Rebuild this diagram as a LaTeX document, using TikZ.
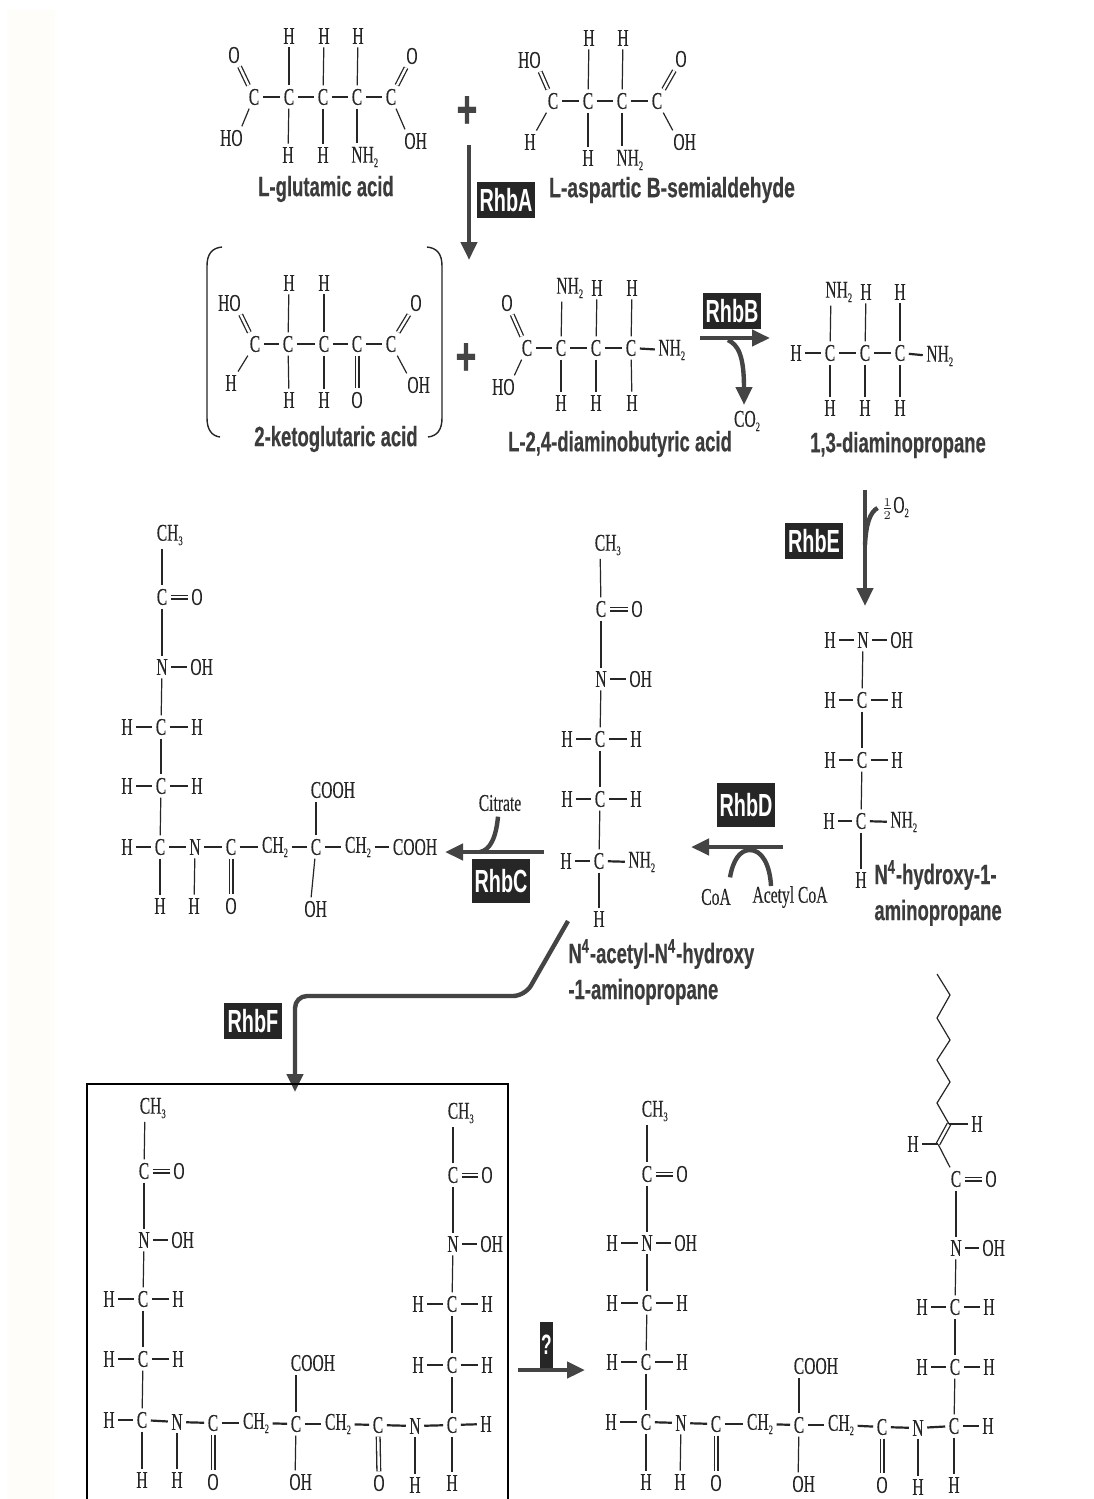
\documentclass[tikz,border=0pt]{standalone}
\usepackage{amsmath}
\usepackage{fontspec}
\usetikzlibrary{arrows.meta, positioning}

\newfontfamily\atomfont{Liberation Serif}[FakeStretch=0.65, FakeBold=0.15]
\newfontfamily\namefont{Liberation Sans}[FakeStretch=0.66, BoldFeatures={FakeBold=0.4}]
\newfontfamily\namewide{Liberation Sans}[FakeStretch=0.69, BoldFeatures={FakeBold=0.4}]
\newfontfamily\enzfont{Liberation Sans}[FakeStretch=0.62]
\newcommand{\lowsub}[1]{\raisebox{-0.4ex}{\fontsize{6.5}{7}\selectfont #1}}
\definecolor{paper}{HTML}{FFFFFF}
\definecolor{peach}{HTML}{FFFDFA}
\definecolor{ink}{HTML}{262626}
\definecolor{flowgrey}{HTML}{444444}

\begin{document}
\begin{tikzpicture}[
    x=0.5pt, y=-0.5pt,
    atom/.style={inner sep=1.6pt, text=ink, font=\atomfont\fontsize{12}{13}\selectfont},
    bond/.style={draw=ink, line width=0.6pt},
    hbond/.style={draw=ink, line width=1.1pt},
    dbond/.style={draw=ink, line width=0.65pt, double=paper, double distance=1.2pt},
    molname/.style={inner sep=0pt, text=ink!90, align=left, font=\namefont\bfseries\fontsize{14}{18}\selectfont},
    enzyme/.style={fill=ink, text=white, inner sep=0pt, minimum width=29pt, minimum height=18pt, font=\enzfont\bfseries\fontsize{16}{16}\selectfont},
    plus/.style={inner sep=0pt, text=flowgrey, font=\namefont\bfseries\fontsize{27}{27}\selectfont},
    flowline/.style={draw=flowgrey, line width=2.2pt},
    flow/.style={flowline, -{Triangle[length=9pt, width=8pt]}},
    >={Stealth[length=5pt]}
]
  \useasboundingbox (0,0) rectangle (1093,1499);
  \fill[paper] (0,0) rectangle (1093,1499);
  \fill[peach] (7,10) rectangle (55,1499);

  % L-glutamic acid
  \foreach \n/\x/\y/\txt in {gc1/254/97/C, gc2/289/97/C, gc3/323/97/C, gc4/357/97/C, gc5/391/97/C,
      gh1/289/36/H, gh2/324/36/H, gh3/358/36/H, go1/234/55/O, go2/412/56/O,
      gho/237/138/\llap{H}O, goh/410/141/O\rlap{H}, gh4/288/155/H, gh5/323/155/H, gn/357/157/N\rlap{H\lowsub{2}}}
    \node[atom] (\n) at (\x,\y) {\txt};
  \foreach \a/\b in {gc2/gh1, gc3/gh2, gc4/gh3, gc2/gh4, gc3/gh5, gc4/gn, gc1/gho, gc5/goh}
    \draw[bond] (\a) -- (\b);
  \foreach \a/\b in {gc1/gc2, gc2/gc3, gc3/gc4, gc4/gc5}
    \draw[hbond] (\a) -- (\b);
  \foreach \a/\b in {gc1/go1, gc5/go2}
    \draw[dbond] (\a) -- (\b);
  \node[molname] (glutamic) at (326,189) {L-glutamic acid};
  \node[plus] (plusa) at (467,112) {+};

  % L-aspartic B-semialdehyde
  \foreach \n/\x/\y/\txt in {ac1/553/101/C, ac2/588/101/C, ac3/622/101/C, ac4/657/101/C,
      ah1/589/38/H, ah2/623/38/H, aho/535/60/\llap{H}O, ao/681/59/O, ah3/530/142/H,
      ah4/588/158/H, an/622/160/N\rlap{H\lowsub{2}}, aoh/679/142/O\rlap{H}}
    \node[atom] (\n) at (\x,\y) {\txt};
  \foreach \a/\b in {ac2/ah1, ac3/ah2, ac2/ah4, ac3/an, ac1/ah3, ac4/aoh}
    \draw[bond] (\a) -- (\b);
  \foreach \a/\b in {ac1/ac2, ac2/ac3, ac3/ac4}
    \draw[hbond] (\a) -- (\b);
  \foreach \a/\b in {ac1/aho, ac4/ao}
    \draw[dbond] (\a) -- (\b);
  \node[molname, font=\namewide\bfseries\fontsize{14}{18}\selectfont] (aspartic) at (672,190) {L-aspartic B-semialdehyde};

  % RhbA
  \node[enzyme] (rhba) at (506,200) {RhbA};
  \coordinate (afrom) at (469,145);
  \coordinate (ato) at (469,260);
  \draw[flow] (afrom) -- (ato);

  % 2-ketoglutaric acid
  \draw[bond, line width=0.7pt] (222,247) .. controls (212,248) and (207,254) .. (207,266) -- (207,418) .. controls (207,430) and (212,436) .. (220,437);
  \draw[bond, line width=0.7pt] (427,247) .. controls (437,248) and (442,254) .. (442,266) -- (442,418) .. controls (442,430) and (437,436) .. (428,437);
  \foreach \n/\x/\y/\txt in {kc1/255/344/C, kc2/288/344/C, kc3/324/344/C, kc4/357/344/C, kc5/391/344/C,
      kh1/289/283/H, kh2/324/283/H, kho/235/303/\llap{H}O, ko1/416/303/O, kh3/231/383/H,
      kh4/289/400/H, kh5/324/400/H, ko2/357/400/O, koh/413/385/O\rlap{H}}
    \node[atom] (\n) at (\x,\y) {\txt};
  \foreach \a/\b in {kc2/kh1, kc3/kh2, kc2/kh4, kc3/kh5, kc1/kh3, kc5/koh}
    \draw[bond] (\a) -- (\b);
  \foreach \a/\b in {kc1/kc2, kc2/kc3, kc3/kc4, kc4/kc5}
    \draw[hbond] (\a) -- (\b);
  \foreach \a/\b in {kc1/kho, kc5/ko1, kc4/ko2}
    \draw[dbond] (\a) -- (\b);
  \node[molname] (keto) at (336,439) {2-ketoglutaric acid};
  \node[plus] (plusb) at (466,359) {+};

  % L-2,4-diaminobutyric acid
  \foreach \n/\x/\y/\txt in {dc1/527/348/C, dc2/561/348/C, dc3/596/348/C, dc4/631/348/C,
      dn2/664/350/N\rlap{H\lowsub{2}}, do/507/303/O, dn1/562/288/N\rlap{H\lowsub{2}}, dh1/597/288/H, dh2/632/288/H,
      dho/509/387/\llap{H}O, dh3/561/403/H, dh4/596/403/H, dh5/632/403/H}
    \node[atom] (\n) at (\x,\y) {\txt};
  \foreach \a/\b in {dc2/dn1, dc3/dh1, dc4/dh2, dc2/dh3, dc3/dh4, dc4/dh5, dc1/dho}
    \draw[bond] (\a) -- (\b);
  \foreach \a/\b in {dc1/dc2, dc2/dc3, dc3/dc4, dc4/dn2}
    \draw[hbond] (\a) -- (\b);
  \draw[dbond] (dc1) -- (do);
  \node[molname] (dab) at (620,444) {L-2,4-diaminobutyric acid};

  % RhbB
  \node[enzyme] (rhbb) at (732,311) {RhbB};
  \node[atom] (co2lab) at (747,421) {CO\lowsub{2}};
  \coordinate (bfrom) at (700,338);
  \coordinate (bto) at (770,338);
  \coordinate (btee) at (728,340);
  \coordinate (btip) at (744,405);
  \draw[flow] (bfrom) -- (bto);
  \draw[flow] (btee) .. controls (738,345) and (744,355) .. (btip);

  % 1,3-diaminopropane
  \foreach \n/\x/\y/\txt in {pc1/830/353/C, pc2/865/353/C, pc3/900/353/C, ph1/796/353/H,
      pn2/932/356/N\rlap{H\lowsub{2}}, pn1/831/292/N\rlap{H\lowsub{2}}, ph2/866/292/H, ph3/900/292/H,
      ph4/830/408/H, ph5/865/408/H, ph6/900/408/H}
    \node[atom] (\n) at (\x,\y) {\txt};
  \foreach \a/\b in {pc1/pn1, pc2/ph2, pc3/ph3, pc1/ph4, pc2/ph5, pc3/ph6}
    \draw[bond] (\a) -- (\b);
  \foreach \a/\b in {ph1/pc1, pc1/pc2, pc2/pc3, pc3/pn2}
    \draw[hbond] (\a) -- (\b);
  \node[molname] (propane) at (898,445) {1,3-diaminopropane};

  % RhbE
  \node[enzyme] (rhbe) at (814,541) {RhbE};
  \node[atom] (halfo) at (895,508) {$\scriptstyle\frac{1}{2}$O\lowsub{2}};
  \coordinate (efrom) at (865,490);
  \coordinate (eto) at (865,606);
  \coordinate (etee) at (865,545);
  \draw[flow] (efrom) -- (eto);
  \draw[flowline] (halfo.west) .. controls (870,512) and (866,524) .. (etee);

  % N4-hydroxy-1-aminopropane
  \foreach \n/\x/\y/\txt in {hn/863/640/N, hh1/830/640/H, hoh/896/640/O\rlap{H},
      hc1/862/700/C, hh2/830/700/H, hh3/897/700/H, hc2/862/760/C, hh4/830/760/H, hh5/897/760/H,
      hc3/861/821/C, hh6/829/821/H, hnh/896/822/N\rlap{H\lowsub{2}}, hh7/861/880/H}
    \node[atom] (\n) at (\x,\y) {\txt};
  \foreach \a/\b in {hn/hc1, hc1/hc2, hc2/hc3, hc3/hh7}
    \draw[bond] (\a) -- (\b);
  \foreach \a/\b in {hh1/hn, hn/hoh, hh2/hc1, hc1/hh3, hh4/hc2, hc2/hh5, hh6/hc3, hc3/hnh}
    \draw[hbond] (\a) -- (\b);
  \node[molname, anchor=west] (hydroxy) at (874,893) {N\textsuperscript{4}-hydroxy-1-\\aminopropane};

  % RhbD
  \node[enzyme, minimum height=22pt] (rhbd) at (746,805) {RhbD};
  \node[atom] (coa) at (716,897) {CoA};
  \node[atom] (acoa) at (790,897) {Acetyl CoA};
  \coordinate (dfrom) at (783,847);
  \coordinate (dto) at (691,847);
  \coordinate (dtop) at (750,850);
  \draw[flow] (dfrom) -- (dto);
  \draw[flowline] (coa.north) ++(14,-8) .. controls (733,860) and (740,850) .. (dtop) .. controls (762,850) and (770,865) .. (771,886);

  % N4-acetyl-N4-hydroxy-1-aminopropane
  \foreach \n/\x/\y/\txt in {tm/600/545/C\rlap{H\lowsub{3}}, tc/601/609/C, to/637/609/O, tn/601/679/N, toh/635/679/O\rlap{H},
      tc1/600/739/C, th1/567/739/H, th2/636/739/H, tc2/600/799/C, th3/567/799/H, th4/636/799/H,
      tc3/599/861/C, th5/566/861/H, tnh/634/862/N\rlap{H\lowsub{2}}, th6/599/919/H}
    \node[atom] (\n) at (\x,\y) {\txt};
  \foreach \a/\b in {tm/tc, tc/tn, tn/tc1, tc1/tc2, tc2/tc3, tc3/th6}
    \draw[bond] (\a) -- (\b);
  \foreach \a/\b in {tn/toh, th1/tc1, tc1/th2, th3/tc2, tc2/th4, th5/tc3, tc3/tnh}
    \draw[hbond] (\a) -- (\b);
  \draw[dbond] (tc) -- (to);
  \node[molname, anchor=west] (acetyl) at (568,972) {N\textsuperscript{4}-acetyl-N\textsuperscript{4}-hydroxy\\-1-aminopropane};

  % RhbC
  \node[enzyme, minimum height=22pt] (rhbc) at (501,881) {RhbC};
  \node[atom] (citrate) at (500,803) {Citrate};
  \coordinate (cfrom) at (544,852);
  \coordinate (cto) at (445,852);
  \coordinate (ctee) at (480,852);
  \draw[flow] (cfrom) -- (cto);
  \draw[flowline] (citrate.south) ++(-2,2) .. controls (496,838) and (490,850) .. (ctee);

  % citrate with one side arm
  \foreach \n/\x/\y/\txt in {cm/162/535/C\rlap{H\lowsub{3}}, cc/162/597/C, co/197/597/O, cn/162/667/N, coh/196/667/O\rlap{H},
      cc1/161/727/C, ch1/127/727/H, ch2/197/727/H, cc2/161/786/C, ch3/127/786/H, ch4/197/786/H,
      cc3/160/847/C, ch5/127/847/H, cn2/195/847/N, cc4/231/847/C, cm1/275/847/CH\lowsub{2}, cc5/316/847/C,
      cm2/358/847/CH\lowsub{2}, ccooh/415/847/COOH, ch6/160/906/H, ch7/194/906/H, cdo/231/906/O,
      coh2/310/909/O\rlap{H}, ctop/316/790/C\rlap{OOH}}
    \node[atom] (\n) at (\x,\y) {\txt};
  \foreach \a/\b in {cm/cc, cc/cn, cn/cc1, cc1/cc2, cc2/cc3, cc3/ch6, cn2/ch7, cc5/ctop, cc5/coh2}
    \draw[bond] (\a) -- (\b);
  \foreach \a/\b in {cn/coh, ch1/cc1, cc1/ch2, ch3/cc2, cc2/ch4, ch5/cc3, cc3/cn2, cn2/cc4, cc4/cm1, cm1/cc5, cc5/cm2, cm2/ccooh}
    \draw[hbond] (\a) -- (\b);
  \foreach \a/\b in {cc/co, cc4/cdo}
    \draw[dbond] (\a) -- (\b);

  % RhbF
  \node[enzyme] (rhbf) at (253,1021) {RhbF};
  \coordinate (ffrom) at (568,921);
  \coordinate (fbenda) at (525,996);
  \coordinate (fbendb) at (295,996);
  \coordinate (fto) at (295,1092);
  \draw[flow, rounded corners=6pt] (ffrom) -- (fbenda) -- (fbendb) -- (fto);

  % boxed product
  \draw[line width=1pt] (87,1499) -- (87,1084) -- (508,1084) -- (508,1499);
  \foreach \n/\x/\y/\txt in {sm1/145/1108/C\rlap{H\lowsub{3}}, sc1/144/1171/C, so1/179/1171/O, sn1/144/1240/N, soh1/177/1240/O\rlap{H},
      sc2/143/1299/C, sh1/109/1299/H, sh2/178/1299/H, sc3/143/1359/C, sh3/109/1359/H, sh4/178/1359/H,
      sc4/142/1420/C, sh5/109/1420/H, sn2/177/1422/N, sc5/213/1423/C, sm2/256/1423/CH\lowsub{2}, sc6/296/1424/C,
      sm3/338/1424/CH\lowsub{2}, sc7/378/1425/C, sn3/415/1426/N, sc8/452/1425/C, sh6/486/1424/H,
      sh7/142/1480/H, sh8/177/1480/H, so2/213/1482/O, soh2/295/1482/O\rlap{H}, so3/379/1483/O, sh9/415/1485/H, sh10/452/1483/H,
      scooh/296/1363/C\rlap{OOH}, sm4/453/1113/C\rlap{H\lowsub{3}}, sc9/453/1175/C, so4/487/1175/O, sn4/453/1244/N, soh3/486/1244/O\rlap{H},
      sc10/452/1304/C, sh11/418/1304/H, sh12/487/1304/H, sc11/452/1365/C, sh13/418/1365/H, sh14/487/1365/H}
    \node[atom] (\n) at (\x,\y) {\txt};
  \foreach \a/\b in {sm1/sc1, sc1/sn1, sn1/sc2, sc2/sc3, sc3/sc4, sc4/sh7, sn2/sh8, sc6/scooh, sc6/soh2,
      sn3/sh9, sc8/sh10, sc8/sc11, sc11/sc10, sc10/sn4, sn4/sc9, sc9/sm4}
    \draw[bond] (\a) -- (\b);
  \foreach \a/\b in {sn1/soh1, sh1/sc2, sc2/sh2, sh3/sc3, sc3/sh4, sh5/sc4, sc4/sn2, sn2/sc5, sc5/sm2, sm2/sc6, sc6/sm3,
      sm3/sc7, sc7/sn3, sn3/sc8, sc8/sh6, sn4/soh3, sh11/sc10, sc10/sh12, sh13/sc11, sc11/sh14}
    \draw[hbond] (\a) -- (\b);
  \foreach \a/\b in {sc1/so1, sc9/so4, sc5/so2, sc7/so3}
    \draw[dbond] (\a) -- (\b);

  % unknown step
  \node[enzyme, minimum width=6.5pt, minimum height=23pt, font=\enzfont\bfseries\fontsize{14}{14}\selectfont] (rhbq) at (546.5,1345) {?};
  \coordinate (qfrom) at (518,1370);
  \coordinate (qto) at (585,1370);
  \draw[flow] (qfrom) -- (qto);

  % acylated product
  \foreach \n/\x/\y/\txt in {rm1/647/1111/C\rlap{H\lowsub{3}}, rc1/647/1174/C, ro1/682/1174/O, rn1/647/1243/N, rh0/612/1243/H, roh1/680/1243/O\rlap{H},
      rc2/647/1303/C, rh1/612/1303/H, rh2/682/1303/H, rc3/646/1362/C, rh3/612/1362/H, rh4/682/1362/H,
      rc4/646/1422/C, rh5/611/1422/H, rn2/681/1423/N, rc5/716/1424/C, rm2/760/1424/CH\lowsub{2}, rc6/799/1425/C,
      rm3/841/1425/CH\lowsub{2}, rc7/882/1427/C, rn3/918/1428/N, rc8/954/1426/C, rh6/988/1426/H,
      rh7/646/1482/H, rh8/680/1482/H, ro2/716/1483/O, roh2/798/1484/O\rlap{H}, ro3/882/1485/O, rh9/918/1487/H, rh10/954/1485/H,
      rcooh/799/1366/C\rlap{OOH}, rc9/956/1179/C, ro4/991/1179/O, rn4/956/1248/N, roh3/988/1248/O\rlap{H},
      rc10/955/1307/C, rh11/922/1307/H, rh12/989/1307/H, rc11/955/1367/C, rh13/922/1367/H, rh14/989/1367/H,
      rh15/913/1144/H, rh16/977/1124/H}
    \node[atom] (\n) at (\x,\y) {\txt};
  \foreach \a/\b in {rm1/rc1, rc1/rn1, rn1/rc2, rc2/rc3, rc3/rc4, rc4/rh7, rn2/rh8, rc6/rcooh, rc6/roh2,
      rn3/rh9, rc8/rh10, rc8/rc11, rc11/rc10, rc10/rn4, rn4/rc9}
    \draw[bond] (\a) -- (\b);
  \foreach \a/\b in {rh0/rn1, rn1/roh1, rh1/rc2, rc2/rh2, rh3/rc3, rc3/rh4, rh5/rc4, rc4/rn2, rn2/rc5, rc5/rm2, rm2/rc6, rc6/rm3,
      rm3/rc7, rc7/rn3, rn3/rc8, rc8/rh6, rn4/roh3, rh11/rc10, rc10/rh12, rh13/rc11, rc11/rh14}
    \draw[hbond] (\a) -- (\b);
  \foreach \a/\b in {rc1/ro1, rc9/ro4, rc5/ro2, rc7/ro3}
    \draw[dbond] (\a) -- (\b);

  % alkyl tail
  \coordinate (ra) at (938,1144);
  \coordinate (rb) at (949,1124);
  \foreach \n/\x/\y in {z1/937/1103, z2/950/1082, z3/937/1060, z4/950/1040, z5/937/1018, z6/950/995, z7/937/974}
    \coordinate (\n) at (\x,\y);
  \draw[bond] (rc9) -- (ra);
  \draw[dbond] (ra) -- (rb);
  \draw[hbond] (rh15) -- (ra);
  \draw[hbond] (rb) -- (rh16);
  \draw[bond] (rb) -- (z1) -- (z2) -- (z3) -- (z4) -- (z5) -- (z6) -- (z7);
\end{tikzpicture}
\end{document}
